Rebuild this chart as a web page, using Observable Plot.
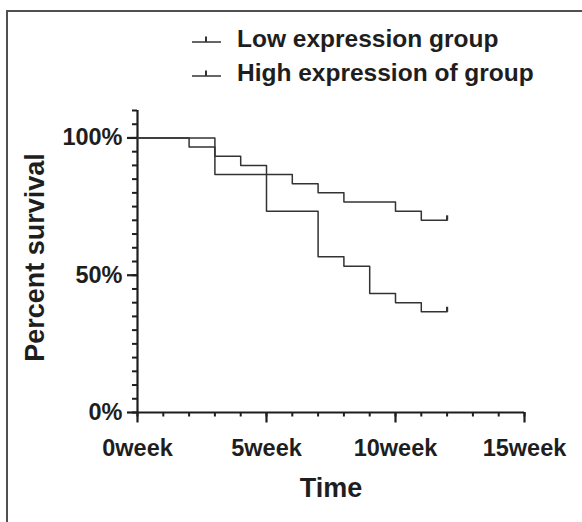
<!DOCTYPE html>
<html>
<head>
<meta charset="utf-8">
<script src="https://cdn.jsdelivr.net/npm/d3@7"></script>
<script src="https://cdn.jsdelivr.net/npm/@observablehq/plot@0.6"></script>
<style>
  html, body { margin: 0; padding: 0; background: #fff; overflow: hidden; }
  #wrap { position: relative; width: 582px; height: 522px; overflow: hidden; font-family: "Liberation Sans", Arial, sans-serif; }
  #frame { position: absolute; left: 6px; top: 10px; width: 600px; height: 540px; border: 2px solid #505050; box-sizing: border-box; pointer-events: none; }
  #legend { position: absolute; left: 192px; top: 22px; color: #1e1e1e; font-weight: bold; font-size: 24.5px; }
  #legend .row { display: flex; align-items: center; height: 34px; white-space: nowrap; }
  #legend svg { margin-right: 16px; }
  #chart { position: absolute; left: 0; top: 0; }
</style>
</head>
<body>
<div id="wrap">
  <div id="frame"></div>
  <div id="chart"></div>
  <div id="legend"></div>
</div>
<script>
// ---- data ----
const groupNames = ["Low expression group", "High expression of group"];
const lowWeeks = [0, 2, 3, 4, 5, 6, 7, 8, 10, 11, 12];
const lowSurv  = [100, 96.7, 93.3, 90, 86.7, 83.3, 80, 76.7, 73.3, 70, 70];
const highWeeks = [0, 3, 5, 7, 8, 9, 10, 11, 12];
const highSurv  = [100, 86.7, 73.3, 56.7, 53.3, 43.3, 40, 36.7, 36.7];
const xMajorTicks = [0, 5, 10, 15];
const xMinorTicks = d3.range(0, 16, 1);
const yMajorTicks = [0, 50, 100];
const yMinorTicks = d3.range(0, 111, 5);
const xTitle = "Time";
const yTitle = "Percent survival";

const lowData = lowWeeks.map((w, i) => ({week: w, surv: lowSurv[i], group: groupNames[0]}));
const highData = highWeeks.map((w, i) => ({week: w, surv: highSurv[i], group: groupNames[1]}));
const censored = [lowData[lowData.length - 1], highData[highData.length - 1]];

const ink = "#1e1e1e";
const lineInk = "#333";
const censorSymbol = {
  draw(ctx, size) {
    const r = Math.sqrt(size / Math.PI);
    ctx.moveTo(0, 0);
    ctx.lineTo(0, -r);
  }
};
const noLabel = () => "";

const chart = Plot.plot({
  width: 582,
  height: 522,
  marginLeft: 137,
  marginRight: 58,
  marginTop: 110,
  marginBottom: 110,
  x: {domain: [0, 15]},
  y: {domain: [0, 110]},
  style: {fontFamily: "'Liberation Sans', Arial, sans-serif", color: ink, background: "transparent", overflow: "visible"},
  marks: [
    // axis lines
    Plot.ruleY([0], {x1: 0, x2: 15, stroke: ink, strokeWidth: 2.2}),
    Plot.ruleX([0], {y1: 0, y2: 110, stroke: ink, strokeWidth: 2.2}),
    // minor ticks
    Plot.axisX({ticks: xMinorTicks, tickSize: 4.5, tickFormat: noLabel, label: null, strokeWidth: 2, stroke: ink}),
    Plot.axisY({ticks: yMinorTicks, tickSize: 5, tickFormat: noLabel, label: null, strokeWidth: 2, stroke: ink}),
    // major ticks with labels
    Plot.axisX({ticks: xMajorTicks, tickSize: 10.5, tickPadding: 16, tickFormat: d => d + "week", label: null,
      fontSize: 23.5, fontWeight: "bold", strokeWidth: 2.2, stroke: ink}),
    Plot.axisY({ticks: yMajorTicks, tickSize: 10, tickPadding: 5, tickFormat: d => d + "%", label: null,
      fontSize: 23.5, fontWeight: "bold", strokeWidth: 2.2, stroke: ink}),
    // survival curves
    Plot.line(lowData, {x: "week", y: "surv", curve: "step-after", stroke: lineInk, strokeWidth: 1.5}),
    Plot.line(highData, {x: "week", y: "surv", curve: "step-after", stroke: lineInk, strokeWidth: 1.5}),
    // censor marks
    Plot.dot(censored, {x: "week", y: "surv", symbol: censorSymbol, r: 5, stroke: lineInk, strokeWidth: 2.2, fill: "none"}),
    // axis titles
    Plot.text([xTitle], {frameAnchor: "bottom", dy: 84, fontSize: 27, fontWeight: "bold", fill: ink}),
    Plot.text([yTitle], {frameAnchor: "left", textAnchor: "middle", lineAnchor: "middle", dx: -102, dy: -4, rotate: -90,
      fontSize: 27, fontWeight: "bold", fill: ink})
  ]
});
document.getElementById("chart").appendChild(chart);

// legend
const legend = d3.select("#legend");
groupNames.forEach(name => {
  const row = legend.append("div").attr("class", "row");
  const s = row.append("svg").attr("width", 29).attr("height", 14);
  s.append("line").attr("x1", 0).attr("x2", 29).attr("y1", 10).attr("y2", 10).attr("stroke", lineInk).attr("stroke-width", 1.5);
  s.append("line").attr("x1", 14).attr("x2", 14).attr("y1", 10).attr("y2", 4.5).attr("stroke", lineInk).attr("stroke-width", 2);
  row.append("span").text(name);
});
</script>
</body>
</html>
